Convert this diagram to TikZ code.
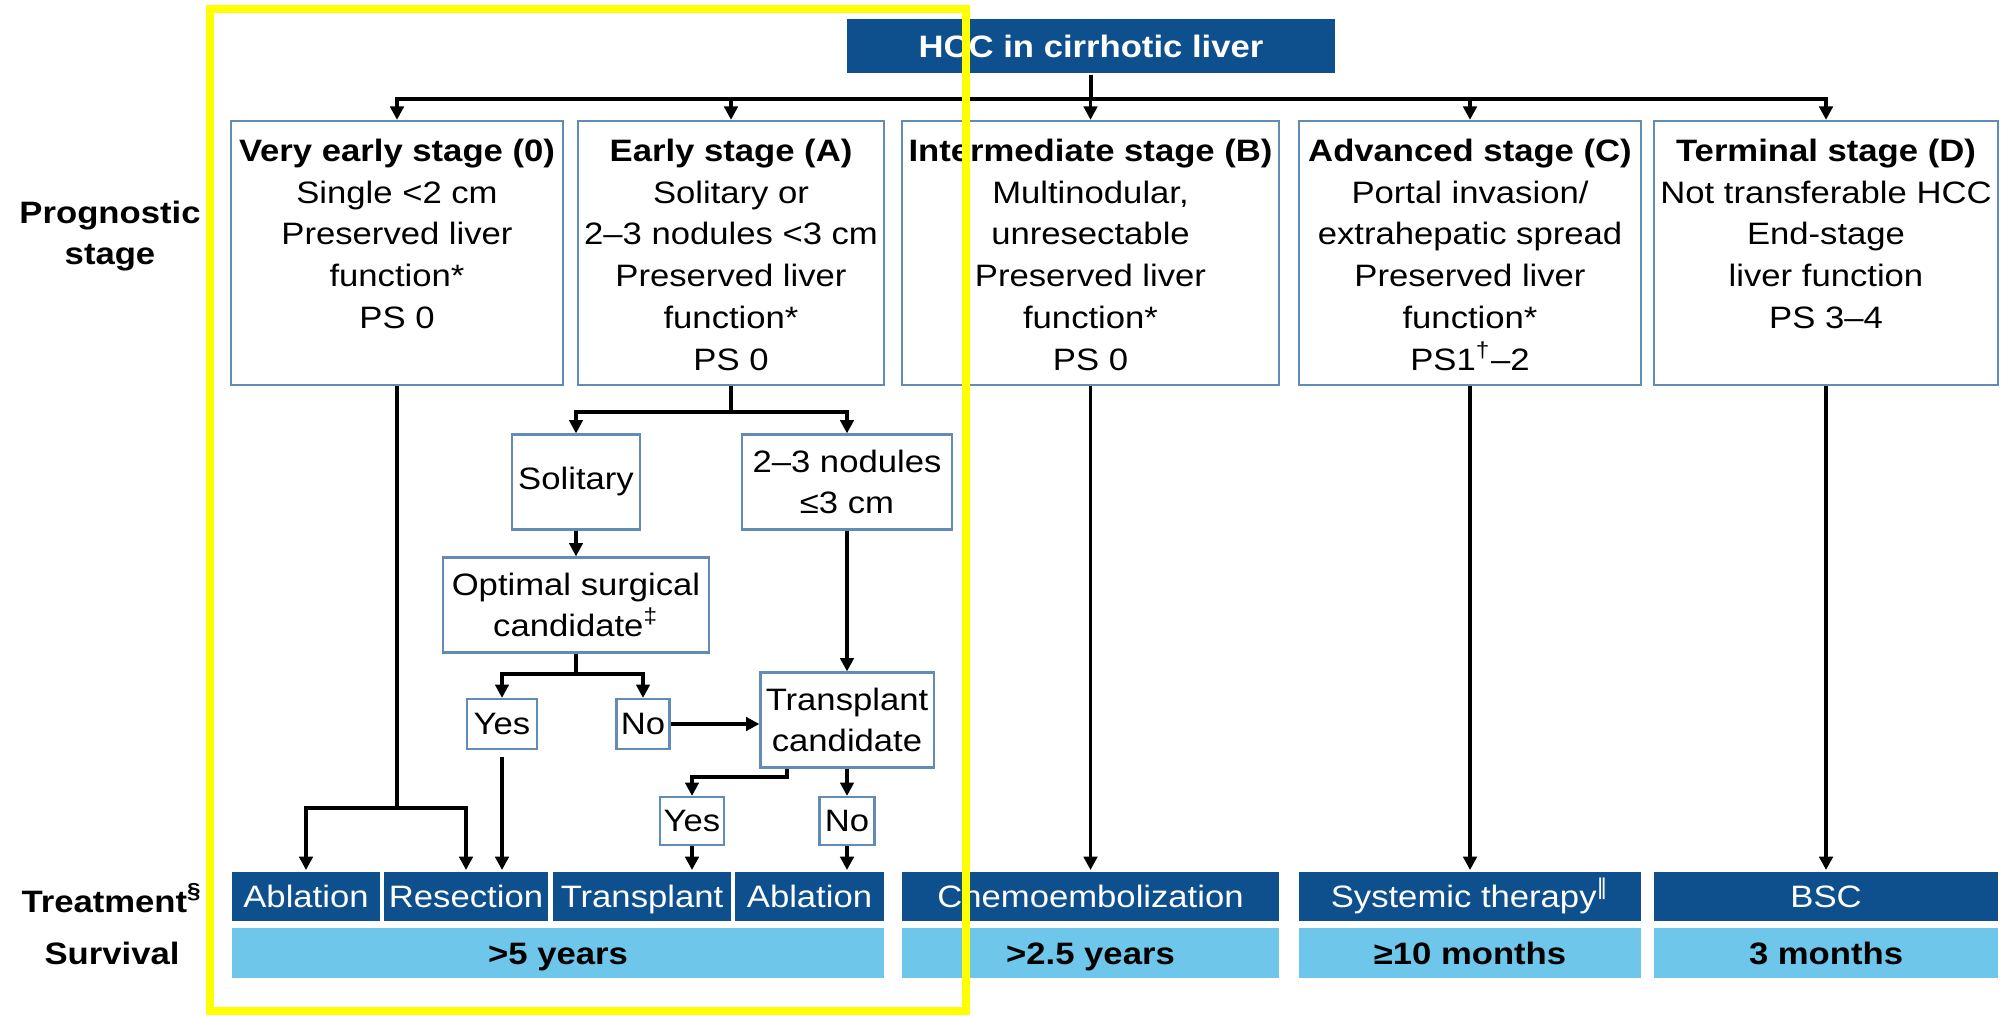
\documentclass[tikz,border=0pt]{standalone}
\usepackage{fontspec}
\setmainfont{Liberation Sans}[FakeStretch=1.12]
\newfontfamily\dvfont{DejaVu Sans}
\usetikzlibrary{arrows.meta,positioning}

\definecolor{hccdark}{RGB}{14,80,142}
\definecolor{hcclight}{RGB}{110,198,234}
\definecolor{hccline}{RGB}{96,140,182}
\definecolor{hlyellow}{RGB}{255,255,0}

\newcommand{\hccsize}{\fontsize{8.8}{11.9}\selectfont}

\tikzset{
  stagebox/.style={draw=hccline, line width=0.6pt, inner sep=0pt},
  smallbox/.style={draw=hccline, line width=0.6pt, align=center, inner sep=0pt},
  boxtext/.style={align=center, inner sep=0pt},
  treat/.style={fill=hccdark, text=white, inner sep=0pt, minimum height=0.49cm,
    text height=0.23cm, text depth=0.01cm},
  surv/.style={fill=hcclight, font=\hccsize\bfseries, inner sep=0pt, minimum height=0.50cm,
    text height=0.23cm, text depth=0.01cm},
  rowlabel/.style={font=\hccsize\bfseries, align=center}
}

\begin{document}
\begin{tikzpicture}[x=0.01cm, y=-0.01cm, font=\hccsize, line width=1.1pt,
    >={Triangle[length=3.8pt,width=3.8pt]}]
  \useasboundingbox (0,0) rectangle (2001,1016);

  % 1. Title and the five stage boxes
  \node[fill=hccdark, text=white, font=\hccsize\bfseries, inner sep=0pt,
    minimum width=4.87cm, minimum height=0.54cm] (title) at (1091,46) {HCC in cirrhotic liver};
  \foreach \n/\x/\w in {st0/397/3.32, stA/731/3.06, stB/1090.5/3.77, stC/1470/3.42, stD/1826/3.44}
    \node[stagebox, minimum width=\w cm, minimum height=2.64cm] (\n) at (\x,253) {};

  \node[boxtext, below=0.17cm of st0.north] (st0t)
    {\textbf{Very early stage (0)}\\Single <2 cm\\Preserved liver\\function*\\PS 0};
  \node[boxtext, below=0.17cm of stA.north] (stAt)
    {\textbf{Early stage (A)}\\Solitary or\\2--3 nodules <3 cm\\Preserved liver\\function*\\PS 0};
  \node[boxtext, below=0.17cm of stB.north] (stBt)
    {\textbf{Intermediate stage (B)}\\Multinodular,\\unresectable\\Preserved liver\\function*\\PS 0};
  \node[boxtext, below=0.17cm of stC.north] (stCt)
    {\textbf{Advanced stage (C)}\\Portal invasion/\\extrahepatic spread\\Preserved liver\\function*\\PS1\textsuperscript{\dag}--2};
  \node[boxtext, below=0.17cm of stD.north] (stDt)
    {\textbf{Terminal stage (D)}\\Not transferable HCC\\End-stage\\liver function\\PS 3--4};

  % 2. Decision boxes under the early stage
  \node[smallbox, minimum width=1.28cm, minimum height=0.95cm] (sol) at (576,482) {Solitary};
  \node[smallbox, minimum width=2.10cm, minimum height=0.95cm] (nod) at (847,482) {2--3 nodules\\≤3 cm};
  \node[smallbox, minimum width=2.65cm, minimum height=0.95cm] (opt) at (576,605) {Optimal surgical\\candidate\textsuperscript{\ddag}};
  \node[smallbox, minimum width=0.70cm, minimum height=0.50cm] (yes1) at (502,724) {Yes};
  \node[smallbox, minimum width=0.53cm, minimum height=0.50cm] (no1) at (643,724) {No};
  \node[smallbox, minimum width=1.73cm, minimum height=0.95cm] (tc) at (847,720) {Transplant\\candidate};
  \node[smallbox, minimum width=0.64cm, minimum height=0.48cm] (yes2) at (692,821) {Yes};
  \node[smallbox, minimum width=0.55cm, minimum height=0.48cm] (no2) at (847,821) {No};

  % 3. Treatment and survival rows
  \foreach \n/\x/\w/\lbl in {tAbl/306/1.48/Ablation, tRes/466/1.64/Resection,
      tTra/642/1.78/Transplant, tAbl2/809.5/1.49/Ablation, tChe/1090.5/3.77/Chemoembolization,
      tSys/1470/3.42/{Systemic therapy\textsuperscript{\dvfont ‖}}, tBsc/1826/3.44/BSC}
    \node[treat, minimum width=\w cm] (\n) at (\x,896.5) {\lbl};
  \foreach \n/\x/\w/\lbl in {sv0/558/6.52/>5 years, svB/1090.5/3.77/>2.5 years,
      svC/1470/3.42/≥10 months, svD/1826/3.44/3 months}
    \node[surv, minimum width=\w cm] (\n) at (\x,953) {\lbl};

  \node[rowlabel] (lprog) at (110,236) {Prognostic\\stage};
  \node[rowlabel] (ltreat) at (112,898) {Treatment\textsuperscript{\S}};
  \node[rowlabel] (lsurv) at (112,953) {Survival};

  % 4. Connectors from the title to the stages
  \foreach \n in {st0,stA,stB,stC,stD}
    \draw[->] (title.south) -- ++(0,24) -| (\n.north);

  % 5. Early stage tree
  \draw[->] (stA.south) -- ++(0,26) -| (sol.north);
  \draw[->] (stA.south) -- ++(0,26) -| (nod.north);
  \draw[->] (sol.south) -- (opt.north);
  \draw[->] (opt.south) -- ++(0,20) -| (yes1.north);
  \draw[->] (opt.south) -- ++(0,20) -| (no1.north);
  \draw[->] (no1.east) -- (no1.east -| tc.west);
  \draw[->] (nod.south) -- (tc.north);
  \draw[->] ([xshift=0.28cm]tc.south west) -- ++(0,8) -| (yes2.north);
  \draw[->] (tc.south) -- (no2.north);

  % 6. Down into the treatment row
  \draw[->] (st0.south) -- ++(0,422) -| (tAbl.north);
  \draw[->] (st0.south) -- ++(0,422) -| (tRes.north);
  \draw[->, shorten <=2pt] (yes1.south) -- (yes1.south |- tRes.north);
  \draw[->] (yes2.south) -- (yes2.south |- tTra.north);
  \draw[->] (no2.south) -- (no2.south |- tAbl2.north);
  \foreach \a/\b in {stB/tChe, stC/tSys, stD/tBsc}
    \draw[->] (\a.south) -- (\b.north);

  % 7. Highlight frame
  \draw[hlyellow, line width=0.08cm] (210,9) rectangle (966,1011);
\end{tikzpicture}
\end{document}
